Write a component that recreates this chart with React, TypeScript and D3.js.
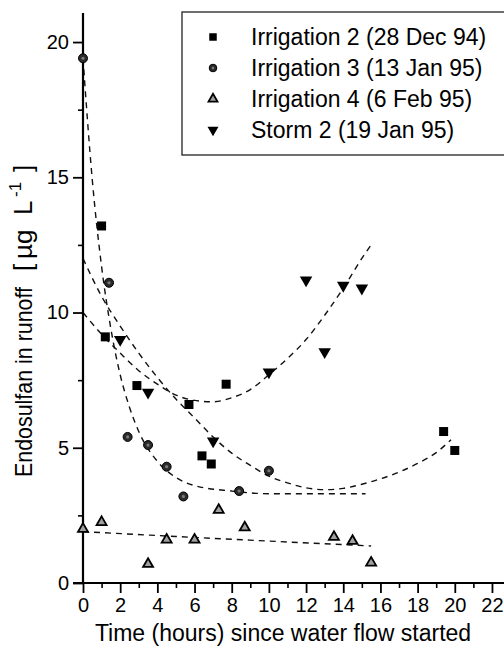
import React, { useEffect, useRef } from 'react';
import * as d3 from 'd3';

// Irrigation 2 (28 Dec 94) - squares
const irr2X = [1, 1.2, 2.9, 5.7, 6.4, 6.9, 7.7, 19.4, 20];
const irr2Y = [13.2, 9.1, 7.3, 6.6, 4.7, 4.4, 7.35, 5.6, 4.9];
// Irrigation 3 (13 Jan 95) - circles
const irr3X = [0, 1.4, 2.4, 3.5, 4.5, 5.4, 8.4, 10];
const irr3Y = [19.4, 11.1, 5.4, 5.1, 4.3, 3.2, 3.4, 4.15];
// Irrigation 4 (6 Feb 95) - up triangles
const irr4X = [0, 1, 3.5, 4.5, 6, 7.3, 8.7, 13.5, 14.5, 15.5];
const irr4Y = [2.0, 2.25, 0.7, 1.6, 1.6, 2.7, 2.05, 1.7, 1.55, 0.75];
// Storm 2 (19 Jan 95) - down triangles
const stormX = [2, 3.5, 7, 10, 12, 13, 14, 15];
const stormY = [9.0, 7.05, 5.25, 7.8, 11.2, 8.55, 11.0, 10.9];

// dashed fitted curves
const irr3FitX = [0, 0.5, 1, 1.5, 2, 2.5, 3, 4, 5, 6, 8, 10, 12, 15.2];
const irr3FitY = [19.4, 14.9, 11.7, 9.4, 7.7, 6.5, 5.6, 4.5, 3.9, 3.6, 3.4, 3.3, 3.3, 3.3];
const irr2FitX = [0, 1, 2, 3, 4, 5, 6, 7, 8, 9, 10, 11, 12, 13, 14, 15, 16, 17, 18, 19, 19.8];
const irr2FitY = [12.0, 10.6, 9.5, 8.5, 7.6, 6.8, 6.1, 5.4, 4.8, 4.35, 3.95, 3.7, 3.52, 3.45, 3.5, 3.65, 3.85, 4.1, 4.42, 4.82, 5.3];
const stormFitX = [0, 1, 2, 3, 4, 5, 6, 7, 8, 9, 10, 11, 12, 13, 14, 15, 15.5];
const stormFitY = [10, 9.2, 8.5, 7.85, 7.35, 6.95, 6.75, 6.7, 6.85, 7.15, 7.7, 8.3, 9.0, 9.9, 10.9, 12.0, 12.5];
const irr4FitX = [0, 5, 10, 15.5];
const irr4FitY = [1.9, 1.72, 1.55, 1.37];

const xMajorTicks = [0, 2, 4, 6, 8, 10, 12, 14, 16, 18, 20, 22];
const xMinorTicks = [1, 3, 5, 7, 9, 11, 13, 15, 17, 19, 21];
const yMajorTicks = [0, 5, 10, 15, 20];
const yMinorTicks = [2.5, 7.5, 12.5, 17.5];

const legendLabels = [
  'Irrigation 2 (28 Dec 94)',
  'Irrigation 3 (13 Jan 95)',
  'Irrigation 4 (6 Feb 95)',
  'Storm 2 (19 Jan 95)',
];

const FONT = '"Liberation Sans", Arial, Helvetica, sans-serif';

const zip = (xs: number[], ys: number[]) => xs.map((v, i) => [v, ys[i]] as [number, number]);

const App = () => {
  const svgRef = useRef<SVGSVGElement>(null);

  useEffect(() => {
    const svg = d3.select(svgRef.current);
    svg.selectAll('*').remove();

    const x = d3.scaleLinear().domain([0, 22.4]).range([83, 499.4]);
    const y = d3.scaleLinear().domain([0, 21]).range([583, 15]);

    // fitted dashed curves
    const line = d3.line<[number, number]>()
      .x(d => x(d[0]))
      .y(d => y(d[1]))
      .curve(d3.curveMonotoneX);

    [
      zip(irr3FitX, irr3FitY),
      zip(irr2FitX, irr2FitY),
      zip(stormFitX, stormFitY),
      zip(irr4FitX, irr4FitY),
    ].forEach(pts => {
      svg.append('path')
        .datum(pts)
        .attr('fill', 'none')
        .attr('stroke', '#111')
        .attr('stroke-width', 1.4)
        .attr('stroke-dasharray', '6,5')
        .attr('d', line);
    });

    // axes
    const xAxis = svg.append('g')
      .attr('transform', `translate(0,${y(0)})`)
      .call(d3.axisBottom(x).tickValues(xMajorTicks).tickSize(10).tickSizeOuter(0).tickPadding(5).tickFormat(d3.format('d')));
    xAxis.select('.domain').remove();
    xAxis.selectAll('line').attr('stroke-width', 1.8);
    xAxis.selectAll('text').attr('font-size', 20).attr('font-family', FONT).attr('fill', '#000');

    svg.append('g')
      .attr('transform', `translate(0,${y(0)})`)
      .call(d3.axisBottom(x).tickValues(xMinorTicks).tickSize(5).tickSizeOuter(0).tickFormat(() => ''))
      .call(g => g.select('.domain').remove())
      .selectAll('line').attr('stroke-width', 1.6);

    const yAxis = svg.append('g')
      .attr('transform', `translate(${x(0)},0)`)
      .call(d3.axisLeft(y).tickValues(yMajorTicks).tickSize(10).tickSizeOuter(0).tickPadding(4));
    yAxis.select('.domain').remove();
    yAxis.selectAll('line').attr('stroke-width', 1.8);
    yAxis.selectAll('text').attr('font-size', 20).attr('font-family', FONT).attr('fill', '#000');

    svg.append('g')
      .attr('transform', `translate(${x(0)},0)`)
      .call(d3.axisLeft(y).tickValues(yMinorTicks).tickSize(5).tickSizeOuter(0).tickFormat(() => ''))
      .call(g => g.select('.domain').remove())
      .selectAll('line').attr('stroke-width', 1.6);

    // axis lines
    svg.append('line')
      .attr('x1', x(0) - 10).attr('x2', 504)
      .attr('y1', y(0)).attr('y2', y(0))
      .attr('stroke', '#000').attr('stroke-width', 2.2);
    svg.append('line')
      .attr('x1', x(0)).attr('x2', x(0))
      .attr('y1', 13).attr('y2', y(0) + 1)
      .attr('stroke', '#000').attr('stroke-width', 2.2);

    // axis titles
    svg.append('text')
      .attr('x', 283)
      .attr('y', 641)
      .attr('text-anchor', 'middle')
      .attr('font-size', 23)
      .attr('font-family', FONT)
      .attr('fill', '#000')
      .text('Time (hours) since water flow started');

    const yTitleG = svg.append('g')
      .attr('transform', 'translate(32,0) rotate(-90)')
      .attr('font-family', FONT)
      .attr('fill', '#000');
    yTitleG.append('text')
      .attr('x', -477)
      .attr('font-size', 24)
      .attr('textLength', 190)
      .attr('lengthAdjust', 'spacingAndGlyphs')
      .text('Endosulfan in runoff');
    const unit = yTitleG.append('text').attr('font-size', 26);
    unit.append('tspan').attr('x', -271).text('[');
    unit.append('tspan').attr('x', -259).text('µg');
    unit.append('tspan').attr('x', -215).text('L');
    unit.append('tspan').attr('x', -197).attr('font-size', 17).attr('dy', -11).text('-1');
    unit.append('tspan').attr('x', -172).attr('dy', 11).text(']');

    // marker drawers
    const square = d3.symbol().type(d3.symbolSquare);
    const tri = d3.symbol().type(d3.symbolTriangle);

    const drawSquare = (g: any, cx: number, cy: number, s: number) => {
      g.append('path')
        .attr('d', square.size(s * s)())
        .attr('transform', `translate(${cx},${cy})`)
        .attr('fill', '#000');
    };
    const drawCircle = (g: any, cx: number, cy: number, r: number) => {
      g.append('circle').attr('cx', cx).attr('cy', cy).attr('r', r)
        .attr('fill', '#2a2a2a').attr('stroke', '#000').attr('stroke-width', 1);
      g.append('circle').attr('cx', cx).attr('cy', cy).attr('r', r * 0.35)
        .attr('fill', '#7a7a7a');
    };
    const drawUp = (g: any, cx: number, cy: number, w: number) => {
      g.append('path')
        .attr('d', tri.size((Math.sqrt(3) / 4) * w * w)())
        .attr('transform', `translate(${cx},${cy})`)
        .attr('fill', '#a0a0a0')
        .attr('stroke', '#000')
        .attr('stroke-width', 1.8)
        .attr('stroke-linejoin', 'miter');
    };
    const drawDown = (g: any, cx: number, cy: number, w: number) => {
      g.append('path')
        .attr('d', tri.size((Math.sqrt(3) / 4) * w * w)())
        .attr('transform', `translate(${cx},${cy}) rotate(180)`)
        .attr('fill', '#000');
    };

    const pts = svg.append('g');
    irr2X.forEach((v, i) => drawSquare(pts, x(v), y(irr2Y[i]), 9));
    irr3X.forEach((v, i) => drawCircle(pts, x(v), y(irr3Y[i]), 4.5));
    irr4X.forEach((v, i) => drawUp(pts, x(v), y(irr4Y[i]), 10));
    stormX.forEach((v, i) => drawDown(pts, x(v), y(stormY[i]), 12.5));

    // legend
    const legend = svg.append('g');
    legend.append('rect')
      .attr('x', 182).attr('y', 12)
      .attr('width', 330).attr('height', 143)
      .attr('fill', '#fff')
      .attr('stroke', '#222')
      .attr('stroke-width', 1.3);

    const rowY = [37, 68, 99, 130];
    drawSquare(legend, 213, rowY[0], 7.5);
    drawCircle(legend, 213, rowY[1], 3.8);
    drawUp(legend, 213, rowY[2], 9);
    drawDown(legend, 213, rowY[3], 11);

    legendLabels.forEach((label, i) => {
      legend.append('text')
        .attr('x', 251)
        .attr('y', rowY[i] + 8)
        .attr('font-size', 23)
        .attr('font-family', FONT)
        .attr('fill', '#000')
        .text(label);
    });
  }, []);

  return (
    <svg
      ref={svgRef}
      width={504}
      height={648}
      style={{ position: 'absolute', left: 0, top: 0, background: '#fff' }}
    />
  );
};

export default App;
